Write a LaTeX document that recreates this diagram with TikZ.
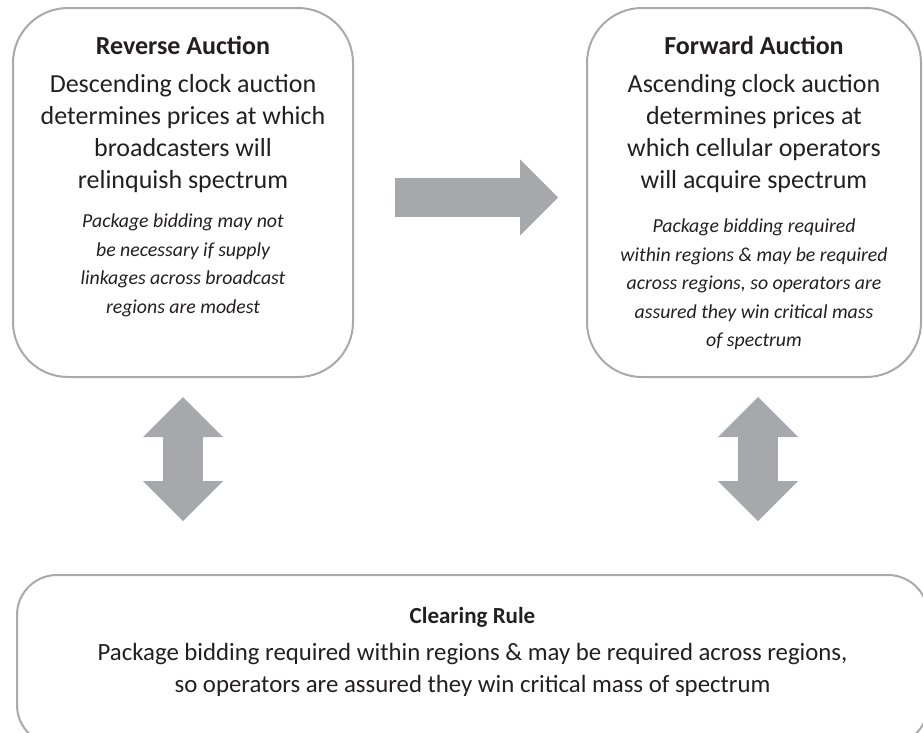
\documentclass[tikz,border=0pt]{standalone}
\usepackage{fontspec}
\setmainfont{Carlito}
\usetikzlibrary{arrows.meta,positioning,calc}
\definecolor{edgegray}{RGB}{167,169,172}
\definecolor{arrowgray}{RGB}{167,168,172}
\definecolor{textblack}{RGB}{35,31,32}

\begin{document}
\begin{tikzpicture}
  [x=1pt, y=1pt, every node/.style={text=textblack},
  panel/.style={rectangle, draw=edgegray, line width=2pt, rounded corners=55pt, inner sep=0pt, outer sep=0pt},
  headtext/.style={font=\fontsize{26}{30}\selectfont\bfseries, inner sep=0pt, anchor=base},
  maintext/.style={font=\fontsize{26}{32}\selectfont, align=center, inner sep=0pt, anchor=north},
  notetext/.style={font=\fontsize{19.8}{28.5}\selectfont\itshape, align=center, inner sep=0pt, anchor=north},
  bigarrow/.style={draw=arrowgray, line width=39pt, -{Triangle[length=38pt,width=76pt,line width=0pt]}},
  dblarrow/.style={draw=arrowgray, line width=40pt, {Triangle[length=40pt,width=80pt,line width=0pt]}-{Triangle[length=40pt,width=80pt,line width=0pt]}}]
  \useasboundingbox (0,-732) rectangle (923,0);
  \clip (0,-732) rectangle (923,0);

  % the three boxes
  \node [panel, minimum width=340pt, minimum height=369pt] (rev) at (183,-192.5) {};
  \node [panel, minimum width=334pt, minimum height=369pt] (fwd) at (754,-192.5) {};
  \node [panel, rounded corners=40pt, minimum width=911pt, minimum height=170pt] (clear) at (472.5,-660) {};

  % reverse auction
  \node [headtext] (revHead) at ([yshift=-46pt]rev.north) {Reverse Auction};
  \node [maintext] (revMain) at ([yshift=-66pt]rev.north) {Descending clock auction\\determines prices at which\\broadcasters will\\relinquish spectrum};
  \node [notetext] (revNote) at ([yshift=-206pt]rev.north) {Package bidding may not\\be necessary if supply\\linkages across broadcast\\regions are modest};

  % forward auction
  \node [headtext] (fwdHead) at ([yshift=-46pt]fwd.north) {Forward Auction};
  \node [maintext] (fwdMain) at ([yshift=-66pt]fwd.north) {Ascending clock auction\\determines prices at\\which cellular operators\\will acquire spectrum};
  \node [notetext] (fwdNote) at ([yshift=-211pt]fwd.north) {Package bidding required\\within regions \& may be required\\across regions, so operators are\\assured they win critical mass\\of spectrum};

  % clearing rule
  \node [headtext, font=\fontsize{23}{27}\selectfont\bfseries] (clearHead) at ([yshift=-48pt]clear.north) {Clearing Rule};
  \node [maintext, font=\fontsize{24.8}{32}\selectfont] (clearMain) at ([yshift=-68pt]clear.north) {Package bidding required within regions \& may be required across regions,\\so operators are assured they win critical mass of spectrum};

  \begin{scope}[every path/.style=bigarrow]
    \path [shorten <=42pt, shorten >=29pt] ([yshift=-5pt]rev.east) -- ([yshift=-5pt]fwd.west);
  \end{scope}
  \begin{scope}[every path/.style=dblarrow]
    \path [shorten <=20pt, shorten >=54pt] (rev.south) -- (rev.south |- clear.north);
    \path [shorten <=20pt, shorten >=54pt] ([xshift=4pt]fwd.south) -- ([xshift=4pt]fwd.south |- clear.north);
  \end{scope}
\end{tikzpicture}
\end{document}
